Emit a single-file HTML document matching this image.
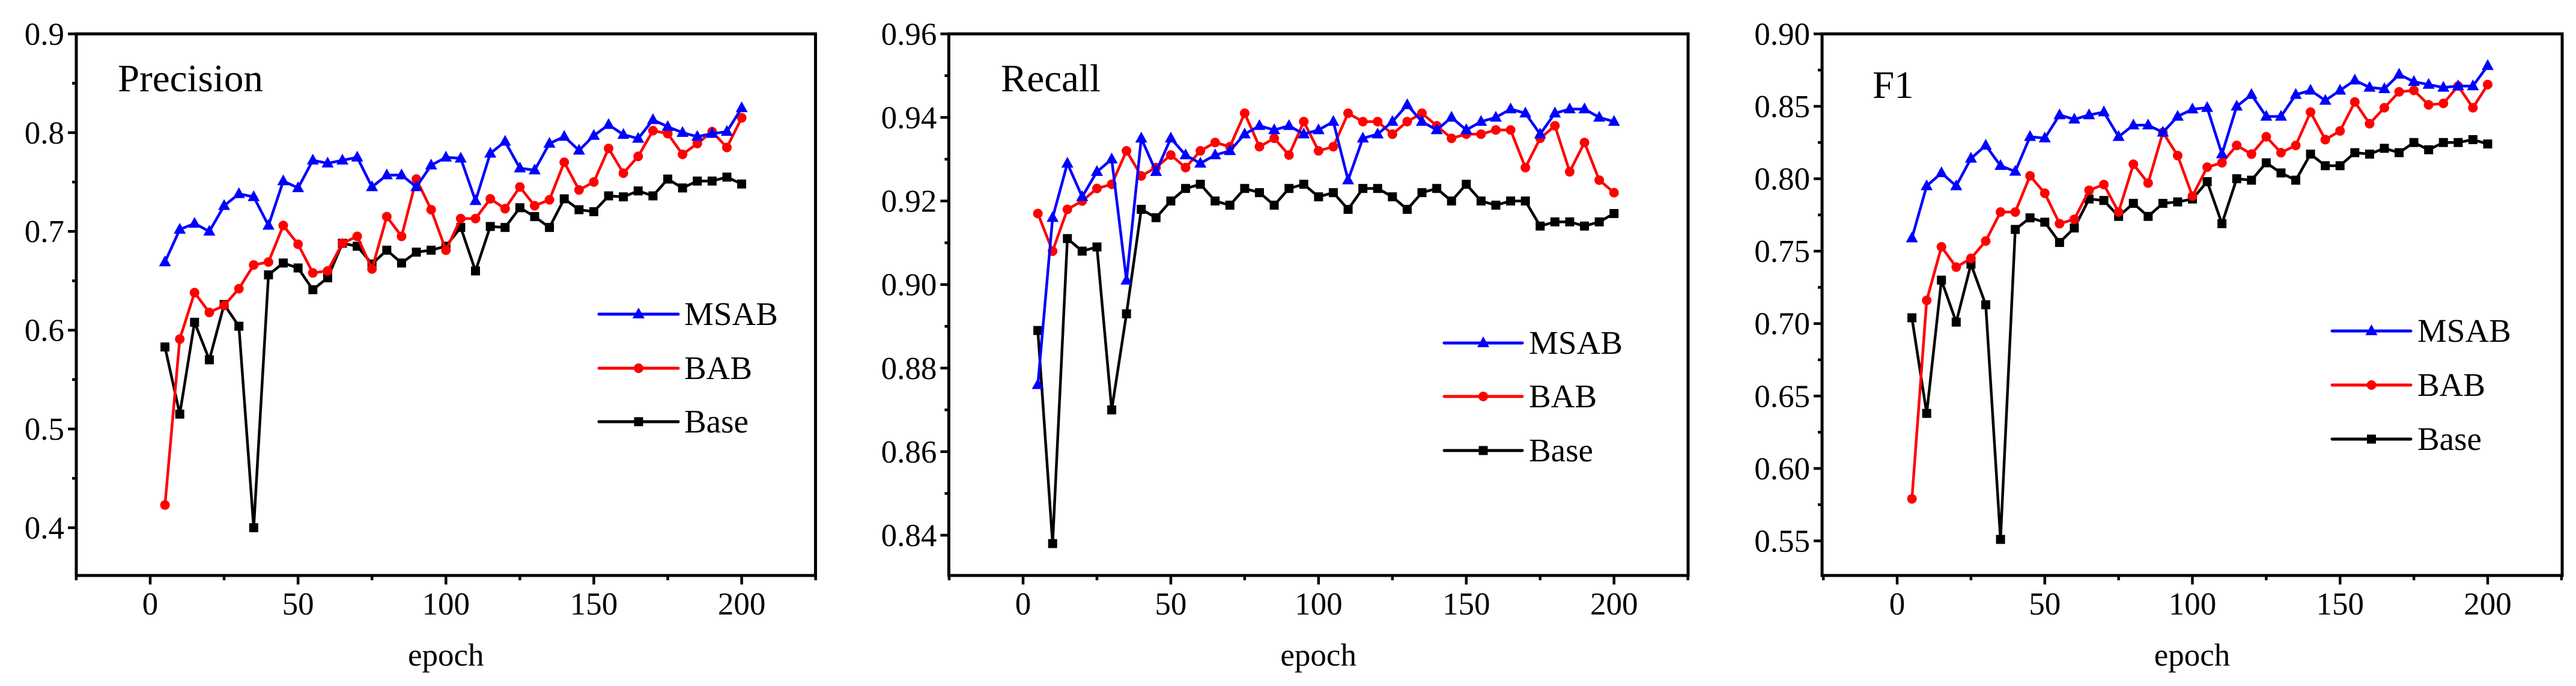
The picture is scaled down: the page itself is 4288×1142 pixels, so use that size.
<!DOCTYPE html>
<html><head><meta charset="utf-8"><style>
html,body{margin:0;padding:0;background:#fff;}
svg{display:block;}
svg text{font-family:"Liberation Serif","DejaVu Serif","Times New Roman",serif;fill:#000;}
</style></head><body>
<svg id="chart" width="4288" height="1142" viewBox="0 0 4288 1142" xmlns="http://www.w3.org/2000/svg" font-family="Liberation Serif, DejaVu Serif, serif"></svg>
<script>
const epochs = [5,10,15,20,25,30,35,40,45,50,55,60,65,70,75,80,85,90,95,100,105,110,115,120,125,130,135,140,145,150,155,160,165,170,175,180,185,190,195,200];
const xTicks = [0,50,100,150,200];
const seriesNames = ["MSAB","BAB","Base"];

const precMSAB = [0.669,0.702,0.708,0.700,0.726,0.738,0.735,0.706,0.751,0.744,0.772,0.769,0.772,0.775,0.745,0.757,0.757,0.745,0.767,0.775,0.774,0.731,0.779,0.791,0.764,0.762,0.789,0.796,0.782,0.797,0.808,0.798,0.794,0.813,0.806,0.800,0.796,0.799,0.801,0.825];
const precBAB = [0.423,0.591,0.638,0.618,0.625,0.642,0.666,0.669,0.706,0.687,0.658,0.660,0.688,0.695,0.662,0.715,0.695,0.753,0.722,0.681,0.713,0.713,0.733,0.723,0.745,0.726,0.732,0.770,0.742,0.750,0.784,0.759,0.776,0.802,0.799,0.778,0.789,0.801,0.785,0.815];
const precBase = [0.583,0.515,0.608,0.570,0.626,0.604,0.400,0.656,0.668,0.663,0.641,0.653,0.688,0.685,0.667,0.681,0.668,0.679,0.681,0.685,0.704,0.660,0.705,0.704,0.724,0.715,0.704,0.733,0.722,0.720,0.736,0.735,0.741,0.736,0.753,0.744,0.751,0.751,0.755,0.748];
const precTicks = ["0.4","0.5","0.6","0.7","0.8","0.9"];

const recMSAB = [0.876,0.916,0.929,0.921,0.927,0.930,0.901,0.935,0.927,0.935,0.931,0.929,0.931,0.932,0.936,0.938,0.937,0.938,0.936,0.937,0.939,0.925,0.935,0.936,0.939,0.943,0.939,0.937,0.940,0.937,0.939,0.940,0.942,0.941,0.936,0.941,0.942,0.942,0.940,0.939];
const recBAB = [0.917,0.908,0.918,0.920,0.923,0.924,0.932,0.926,0.928,0.931,0.928,0.932,0.934,0.933,0.941,0.933,0.935,0.931,0.939,0.932,0.933,0.941,0.939,0.939,0.936,0.939,0.941,0.938,0.935,0.936,0.936,0.937,0.937,0.928,0.935,0.938,0.927,0.934,0.925,0.922];
const recBase = [0.889,0.838,0.911,0.908,0.909,0.870,0.893,0.918,0.916,0.920,0.923,0.924,0.920,0.919,0.923,0.922,0.919,0.923,0.924,0.921,0.922,0.918,0.923,0.923,0.921,0.918,0.922,0.923,0.920,0.924,0.920,0.919,0.920,0.920,0.914,0.915,0.915,0.914,0.915,0.917];
const recTicks = ["0.84","0.86","0.88","0.90","0.92","0.94","0.96"];

const f1MSAB = [0.759,0.795,0.804,0.795,0.814,0.823,0.809,0.805,0.829,0.828,0.844,0.841,0.844,0.846,0.829,0.837,0.837,0.832,0.843,0.848,0.849,0.817,0.850,0.858,0.843,0.843,0.858,0.861,0.854,0.861,0.868,0.863,0.862,0.872,0.867,0.865,0.863,0.864,0.864,0.878];
const f1BAB = [0.579,0.716,0.753,0.739,0.745,0.757,0.777,0.777,0.802,0.790,0.769,0.772,0.792,0.796,0.777,0.810,0.797,0.832,0.816,0.788,0.808,0.811,0.823,0.817,0.829,0.818,0.823,0.846,0.827,0.833,0.853,0.838,0.849,0.860,0.861,0.851,0.852,0.864,0.849,0.865];
const f1Base = [0.704,0.638,0.730,0.701,0.741,0.713,0.551,0.765,0.773,0.770,0.756,0.766,0.786,0.785,0.774,0.783,0.774,0.783,0.784,0.786,0.798,0.769,0.800,0.799,0.811,0.804,0.799,0.817,0.809,0.809,0.818,0.817,0.821,0.818,0.825,0.820,0.825,0.825,0.827,0.824];
const f1Ticks = ["0.55","0.60","0.65","0.70","0.75","0.80","0.85","0.90"];

const NS = "http://www.w3.org/2000/svg";
const FONT = "'Liberation Serif', 'DejaVu Serif', serif";
const svg = document.getElementById('chart');
function mk(tag, attrs, parent){const e=document.createElementNS(NS,tag);for(const k in attrs)e.setAttribute(k,attrs[k]);(parent||svg).appendChild(e);return e;}
function txt(attrs, parent){attrs['font-family']=FONT;return mk('text',attrs,parent);}

const colors = ["#0000ff","#ff0000","#000000"];
const panels = [
 {name:"precision",title:"Precision",tx:196,ty:152,L:127,R:1357.5,T:56.4,B:958,x0:250,x200:1234.6,yA:0.9,pA:56.4,yB:0.4,pB:878.5,ymin:0.35,minorStep:0.05,ticks:precTicks,series:[precMSAB,precBAB,precBase],leg:{x1:997,x2:1129,tx:1139,ys:[523,613,702]}},
 {name:"recall",title:"Recall",tx:1666,ty:152,L:1579.4,R:2810,T:56.4,B:958,x0:1703,x200:2686.7,yA:0.96,pA:56.4,yB:0.84,pB:891,ymin:0.83,minorStep:0.01,ticks:recTicks,series:[recMSAB,recBAB,recBase],leg:{x1:2404,x2:2534,tx:2545,ys:[571,660,750]}},
 {name:"f1",title:"F1",tx:3117,ty:163,L:3033,R:4265,T:56.4,B:958,x0:3158,x200:4141,yA:0.90,pA:56.4,yB:0.55,pB:900.4,ymin:0.525,minorStep:0.025,ticks:f1Ticks,series:[f1MSAB,f1BAB,f1Base],leg:{x1:3882,x2:4013,tx:4024,ys:[551,641,731]}}
];

function marker(g, kind, x, y, c){
  let m;
  if(kind===0){m=mk('polygon',{points:`${x},${y-11} ${x-10},${y+7} ${x+10},${y+7}`,fill:c},g);}
  else if(kind===1){m=mk('circle',{cx:x,cy:y,r:8,fill:c},g);}
  else {m=mk('rect',{x:x-7.5,y:y-7.5,width:15,height:15,fill:c},g);}
  return m;
}

panels.forEach(p=>{
  const g = mk('g',{});
  
  
  const X = v => p.x0 + (v/200)*(p.x200-p.x0);
  const Y = v => p.pA + (p.yA - v)/(p.yA-p.yB)*(p.pB-p.pA);
  const fr = mk('rect',{x:p.L,y:p.T,width:p.R-p.L,height:p.B-p.T,fill:'none',stroke:'#000','stroke-width':5},g);
  
  
  const nMinor = Math.round((p.yA-p.ymin)/p.minorStep);
  for(let i=0;i<=nMinor;i++){
    const v = p.yA - i*p.minorStep; const yy=Y(v);
    if(yy>p.B+1) continue;
    const major = p.ticks.some(t=>Math.abs(parseFloat(t)-v)<1e-6);
    mk('line',{x1:p.L-(major?14:7),x2:p.L,y1:yy,y2:yy,stroke:'#000','stroke-width':4.5},g);
  }
  p.ticks.forEach(t=>{
    const lab = txt({x:p.L-20,y:Y(parseFloat(t))+18,'text-anchor':'end','font-size':53},g);
    lab.textContent=t;
    
    
  });
  for(let v=-25; v<=225; v+=25){
    const xx=X(v); const major = v%50===0;
    mk('line',{x1:xx,x2:xx,y1:p.B,y2:p.B+(major?15:8),stroke:'#000','stroke-width':4.5},g);
  }
  xTicks.forEach(v=>{
    const lab = txt({x:X(v),y:1023,'text-anchor':'middle','font-size':53},g);
    lab.textContent=String(v);
    
    
  });
  const xt = txt({x:(p.L+p.R)/2,y:1108,'text-anchor':'middle','font-size':53},g);
  xt.textContent='epoch';
  
  
  const tt = txt({x:p.tx,y:p.ty,'font-size':65},g);
  tt.textContent=p.title;
  
  
  [2,1,0].forEach(si=>{
    const data = p.series[si]; const c = colors[si];
    const sg = mk('g',{},g);
    
    
    const pts = data.map((v,i)=>X(epochs[i])+','+Y(v)).join(' ');
    mk('polyline',{points:pts,fill:'none',stroke:c,'stroke-width':4.5,'stroke-linejoin':'round'},sg);
    data.forEach((v,i)=>{
      const m = marker(sg, si, X(epochs[i]), Y(v), c);
      
      
    });
  });
  const lg = mk('g',{},g);
  
  
  seriesNames.forEach((n,si)=>{
    const e = mk('g',{},lg);
    
    
    const y = p.leg.ys[si];
    mk('line',{x1:p.leg.x1,x2:p.leg.x2,y1:y,y2:y,stroke:colors[si],'stroke-width':5,'stroke-linecap':'round'},e);
    marker(e, si, (p.leg.x1+p.leg.x2)/2, y, colors[si]);
    const t = txt({x:p.leg.tx,y:y+18,'font-size':55},e);
    t.textContent=n;
  });
});
</script>
</body></html>
